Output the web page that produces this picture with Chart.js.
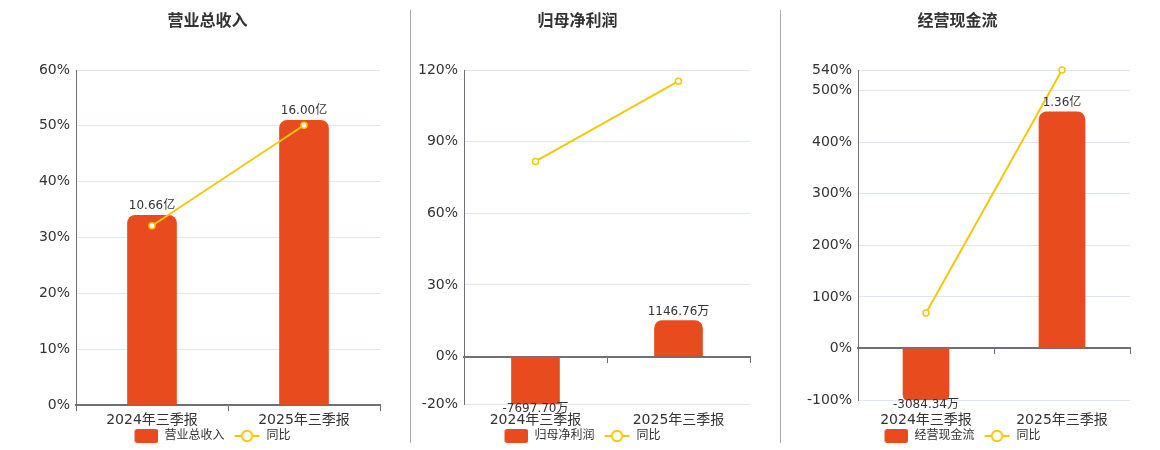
<!DOCTYPE html>
<html>
<head>
<meta charset="utf-8">
<script src="https://cdn.jsdelivr.net/npm/chart.js@4.4.1/dist/chart.umd.min.js"></script>
<style>
  html, body { margin: 0; padding: 0; background: #fff; }
  #wrap { position: relative; width: 1160px; height: 450px; overflow: hidden; }
  .panel { position: absolute; top: 0; width: 360px; height: 450px; }
  .sep { position: absolute; top: 10px; width: 1px; height: 433px; background: #aaa; }
</style>
</head>
<body>
<div id="wrap">
  <div class="panel" style="left:30px"><canvas id="revenueChart"></canvas></div>
  <div class="panel" style="left:400px"><canvas id="profitChart"></canvas></div>
  <div class="panel" style="left:780px"><canvas id="cashChart"></canvas></div>
  <div class="sep" style="left:410px"></div>
  <div class="sep" style="left:780px"></div>
</div>
<script>
// values in 万元, yoy in %
const categories = ['2024年三季报', '2025年三季报'];

const revenueValues = [106600, 160000];
const revenueYoY = [32.1, 50.1];
const revenueTicks = [0, 10, 20, 30, 40, 50, 60];

const profitValues = [-7697.70, 1146.76];
const profitYoY = [81.7, 115.3];
const profitTicks = [-20, 0, 30, 60, 90, 120];

const cashValues = [-3084.34, 13600];
const cashYoY = [68.9, 540];
const cashTicks = [-100, 0, 100, 200, 300, 400, 500, 540];

const FONT = "'DejaVu Sans', 'Noto Sans CJK SC', sans-serif";
const BAR = '#e84c1e';
const LINE = '#f4c80a';
const AXIS = '#6e7079';
const GRID = '#e0e6f1';
const LEGEND_TOP = 428;

const fmt = v => Math.abs(v) >= 10000 ? (v / 10000).toFixed(2) + '亿' : v.toFixed(2) + '万';

const makeIcon = (w, h, draw) => {
    const c = document.createElement('canvas');
    c.width = w;
    c.height = h;
    draw(c.getContext('2d'));
    return c;
};

// legend icons, drawn on the right side of a 34px wide box
const barIcon = makeIcon(34, 14, ctx => {
    ctx.fillStyle = BAR;
    ctx.beginPath();
    ctx.roundRect(10, 0, 24, 14, 3);
    ctx.fill();
});

const lineIcon = makeIcon(34, 14, ctx => {
    ctx.strokeStyle = LINE;
    ctx.lineWidth = 2;
    ctx.beginPath();
    ctx.moveTo(8, 7);
    ctx.lineTo(33, 7);
    ctx.stroke();
    ctx.beginPath();
    ctx.arc(20.5, 7, 5.2, 0, Math.PI * 2);
    ctx.fillStyle = '#fff';
    ctx.fill();
    ctx.stroke();
});

// value labels above / below the bars
const barLabels = {
    id: 'barLabels',
    afterDatasetsDraw(chart) {
        const { ctx, chartArea } = chart;
        const values = chart.data.datasets[0].data;
        ctx.save();
        ctx.font = '12px ' + FONT;
        ctx.fillStyle = '#333';
        ctx.textAlign = 'center';
        chart.getDatasetMeta(0).data.forEach((bar, i) => {
            const v = values[i];
            if (v >= 0) {
                ctx.textBaseline = 'bottom';
                ctx.fillText(fmt(v), bar.x, bar.y - 3);
            } else {
                ctx.textBaseline = 'top';
                ctx.fillText(fmt(v), bar.x, Math.min(bar.y, chartArea.bottom) - 1);
            }
        });
        ctx.restore();
    }
};

const buildChart = (id, p) => {
    const lo = p.ticks[0];
    const hi = p.ticks[p.ticks.length - 1];

    return new Chart(document.getElementById(id), {
        type: 'bar',
        data: {
            labels: categories,
            datasets: [{
                type: 'bar',
                label: p.title,
                data: p.values,
                xAxisID: 'x',
                yAxisID: 'yb',
                backgroundColor: BAR,
                borderRadius: 8,
                borderSkipped: 'start',
                barThickness: p.barThickness,
                order: 2
            }, {
                type: 'line',
                label: '同比',
                data: p.yoy,
                xAxisID: 'x',
                yAxisID: 'y',
                borderColor: LINE,
                borderWidth: 2,
                pointRadius: 3,
                pointBackgroundColor: '#fff',
                pointBorderColor: LINE,
                pointBorderWidth: 1.5,
                clip: false,
                order: 1
            }]
        },
        options: {
            responsive: true,
            maintainAspectRatio: false,
            animation: false,
            layout: { padding: { left: 0, right: 5, top: 0, bottom: -2 } },
            plugins: {
                tooltip: { enabled: false },
                title: {
                    display: true,
                    text: p.title,
                    color: '#333',
                    font: { family: FONT, size: 16, weight: 'bold' },
                    padding: { top: 12, bottom: 38.8 }
                },
                legend: {
                    position: 'bottom',
                    labels: {
                        usePointStyle: true,
                        pointStyleWidth: 34,
                        padding: 2,
                        color: '#333',
                        font: { family: FONT, size: 12 },
                        sort: (a, b) => a.datasetIndex - b.datasetIndex,
                        generateLabels: chart => Chart.defaults.plugins.legend.labels.generateLabels(chart)
                            .map(item => Object.assign(item, { pointStyle: item.datasetIndex === 0 ? barIcon : lineIcon }))
                    }
                }
            },
            scales: {
                x: {
                    type: 'category',
                    offset: true,
                    grid: { display: false, drawTicks: false, tickLength: 0 },
                    border: { display: false },
                    ticks: {
                        color: '#333',
                        font: { family: FONT, size: 14 },
                        padding: p.labelPad,
                        maxRotation: 0
                    },
                    afterFit: s => { s.height = LEGEND_TOP - p.plotBottom; }
                },
                x0: {
                    type: 'category',
                    labels: categories,
                    offset: true,
                    position: { y: 0 },
                    ticks: { display: false },
                    grid: { drawOnChartArea: false, drawTicks: true, tickLength: 5, color: AXIS, offset: true },
                    border: { color: AXIS, width: 2 }
                },
                y: {
                    position: 'left',
                    min: lo,
                    max: hi,
                    afterBuildTicks: s => { s.ticks = p.ticks.map(v => ({ value: v })); },
                    ticks: {
                        callback: v => v + '%',
                        color: '#333',
                        font: { family: FONT, size: 14 },
                        padding: 6
                    },
                    grid: { color: GRID, drawTicks: false },
                    border: { color: AXIS, width: 1 },
                    afterFit: s => { s.width = p.axisWidth; }
                },
                yb: {
                    position: 'right',
                    min: lo * p.k,
                    max: hi * p.k,
                    ticks: { display: false },
                    grid: { drawOnChartArea: false, drawTicks: false },
                    border: { display: false },
                    afterFit: s => { s.width = 5; }
                }
            }
        },
        plugins: [barLabels]
    });
};

buildChart('revenueChart', {
    title: '营业总收入', values: revenueValues, yoy: revenueYoY, ticks: revenueTicks,
    k: 3137.3, axisWidth: 46, barThickness: 49, labelPad: 7, plotBottom: 405
});

buildChart('profitChart', {
    title: '归母净利润', values: profitValues, yoy: profitYoY, ticks: profitTicks,
    k: 75.9, axisWidth: 64, barThickness: 48, labelPad: 8, plotBottom: 404.3
});

buildChart('cashChart', {
    title: '经营现金流', values: cashValues, yoy: cashYoY, ticks: cashTicks,
    k: 29.63, axisWidth: 78, barThickness: 46, labelPad: 12, plotBottom: 400
});
</script>
</body>
</html>
